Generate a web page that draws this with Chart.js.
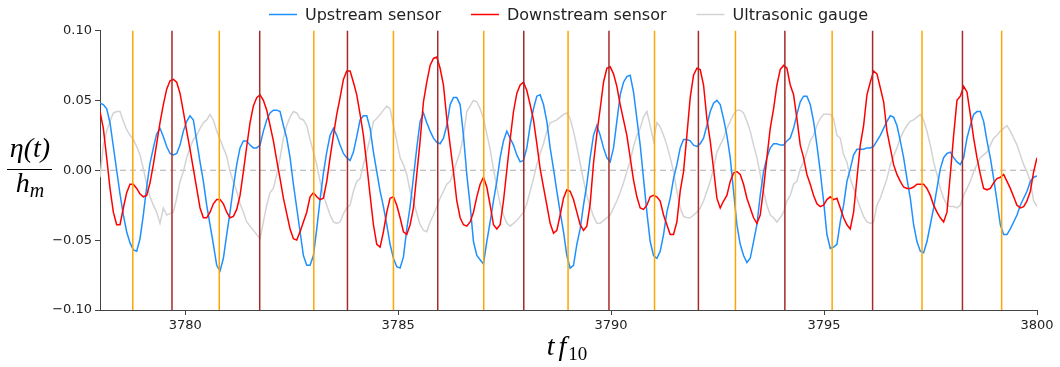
<!DOCTYPE html>
<html>
<head>
<meta charset="utf-8">
<script src="https://cdn.jsdelivr.net/npm/chart.js@4.4.1/dist/chart.umd.min.js"></script>
<style>
  body { margin: 0; background: #fff; }
  #wrap { width: 1060px; height: 367px; position: relative; }
</style>
</head>
<body>
<div id="wrap"><canvas id="myChart"></canvas></div>
<script>
// sampling grid of the recorded signals (t f10)
var t0 = 3778, t1 = 3800;

// Upstream sensor
var upstream = [
  0.048,0.047,0.044,0.034,0.017,0.000,-0.017,-0.032,-0.044,-0.052,
  -0.057,-0.058,-0.049,-0.032,-0.012,0.005,0.016,0.026,0.030,0.024,
  0.017,0.012,0.011,0.012,0.018,0.028,0.035,0.039,0.036,0.021,
  0.006,-0.008,-0.025,-0.039,-0.053,-0.068,-0.072,-0.063,-0.046,-0.030,
  -0.012,0.004,0.016,0.021,0.021,0.018,0.016,0.016,0.018,0.028,
  0.036,0.041,0.043,0.043,
  0.042,0.032,0.023,0.009,-0.010,-0.027,-0.044,-0.061,-0.068,-0.068,
  -0.061,-0.042,-0.021,-0.002,0.013,0.025,0.030,0.025,0.018,0.012,
  0.009,0.007,0.013,0.024,0.036,0.039,0.039,0.030,0.013,-0.001,
  -0.015,-0.026,-0.039,-0.053,-0.063,-0.069,-0.070,-0.062,-0.042,-0.026,
  -0.005,0.016,0.035,0.041,0.034,0.028,0.023,0.020,0.019,0.023,
  0.032,0.047,0.052,0.052,0.047,0.025,
  -0.003,-0.025,-0.051,-0.061,-0.064,-0.067,-0.051,-0.037,-0.022,-0.008,
  0.009,0.021,0.028,0.023,0.018,0.011,0.006,0.007,0.016,0.032,
  0.044,0.053,0.054,0.047,0.035,0.016,0.001,-0.015,-0.030,-0.044,
  -0.061,-0.070,-0.068,-0.053,-0.042,-0.025,-0.010,0.009,0.025,0.032,
  0.025,0.016,0.009,0.006,0.016,0.035,0.054,0.063,0.067,0.068,
  0.056,0.037,0.018,-0.006,-0.030,
  -0.051,-0.061,-0.063,-0.058,-0.046,-0.030,-0.020,-0.006,0.004,0.016,
  0.022,0.022,0.021,0.018,0.017,0.019,0.023,0.032,0.042,0.048,
  0.050,0.047,0.037,0.025,0.009,-0.015,-0.039,-0.053,-0.061,-0.066,
  -0.063,-0.051,-0.039,-0.018,-0.001,0.009,0.016,0.019,0.019,0.018,
  0.018,0.021,0.023,0.030,0.040,0.049,0.053,0.053,0.047,0.035,
  0.018,-0.001,-0.022,-0.046,-0.056,-0.055,
  -0.053,-0.037,-0.025,-0.008,0.001,0.011,0.015,0.015,0.015,0.016,
  0.016,0.017,0.021,0.025,0.030,0.035,0.039,0.038,0.032,0.021,
  0.009,-0.006,-0.020,-0.039,-0.051,-0.058,-0.059,-0.051,-0.039,-0.027,
  -0.013,0.001,0.009,0.012,0.013,0.009,0.006,0.004,0.009,0.023,
  0.032,0.040,0.042,0.042,0.035,0.021,0.009,-0.006,-0.022,-0.039,
  -0.046,-0.046,-0.042,-0.037,-0.032,-0.025,-0.020,-0.015,-0.008,-0.005,
  -0.004
];

// Downstream sensor
var downstream = [
  0.042,0.030,0.009,-0.013,-0.030,-0.039,-0.039,-0.027,-0.016,-0.010,
  -0.010,-0.013,-0.017,-0.019,-0.018,-0.009,0.004,0.019,0.034,0.047,
  0.058,0.064,0.065,0.063,0.055,0.042,0.028,0.015,0.001,-0.013,
  -0.027,-0.034,-0.034,-0.030,-0.024,-0.021,-0.021,-0.024,-0.030,-0.034,
  -0.033,-0.028,-0.018,-0.001,0.017,0.034,0.046,0.052,0.054,0.050,
  0.043,0.032,0.021,0.007,
  -0.006,-0.020,-0.031,-0.042,-0.049,-0.050,-0.044,-0.037,-0.030,-0.019,
  -0.016,-0.019,-0.021,-0.020,-0.008,0.009,0.025,0.040,0.052,0.065,
  0.071,0.071,0.063,0.054,0.040,0.025,0.004,-0.018,-0.039,-0.053,
  -0.055,-0.044,-0.030,-0.020,-0.019,-0.025,-0.034,-0.044,-0.046,-0.039,
  -0.027,-0.003,0.021,0.049,0.063,0.075,0.080,0.081,0.073,0.061,
  0.037,0.018,-0.001,-0.022,-0.034,-0.039,
  -0.040,-0.037,-0.030,-0.019,-0.010,-0.005,-0.012,-0.025,-0.039,-0.042,
  -0.039,-0.022,0.000,0.022,0.042,0.055,0.061,0.063,0.057,0.047,
  0.036,0.019,0.001,-0.012,-0.025,-0.038,-0.045,-0.043,-0.032,-0.020,
  -0.014,-0.015,-0.021,-0.030,-0.039,-0.043,-0.040,-0.024,0.005,0.026,
  0.044,0.063,0.073,0.074,0.069,0.060,0.047,0.036,0.025,0.009,
  -0.007,-0.019,-0.027,-0.028,-0.025,
  -0.019,-0.018,-0.019,-0.022,-0.032,-0.039,-0.046,-0.046,-0.037,-0.015,
  -0.001,0.025,0.052,0.068,0.073,0.072,0.061,0.037,0.021,0.001,
  -0.020,-0.027,-0.022,-0.018,-0.008,-0.002,-0.001,-0.003,-0.010,-0.020,
  -0.027,-0.034,-0.038,-0.032,-0.013,0.009,0.030,0.044,0.061,0.072,
  0.075,0.073,0.061,0.054,0.037,0.018,0.009,-0.003,-0.010,-0.018,
  -0.024,-0.026,-0.025,-0.021,-0.019,-0.021,
  -0.020,-0.027,-0.034,-0.039,-0.042,-0.030,-0.006,0.018,0.032,0.054,
  0.063,0.071,0.069,0.059,0.049,0.028,0.016,0.004,-0.003,-0.008,
  -0.012,-0.013,-0.013,-0.012,-0.010,-0.010,-0.010,-0.013,-0.018,-0.025,
  -0.030,-0.034,-0.037,-0.030,-0.003,0.025,0.050,0.053,0.060,0.056,
  0.040,0.023,0.009,-0.003,-0.013,-0.014,-0.013,-0.009,-0.006,-0.005,
  -0.003,-0.008,-0.013,-0.019,-0.025,-0.027,-0.026,-0.022,-0.015,-0.001,
  0.009
];

// Ultrasonic gauge
var gauge = [
  -0.005,0.018,0.028,0.035,0.041,0.042,0.042,0.035,0.029,0.025,
  0.022,0.017,0.011,0.001,-0.010,-0.019,-0.025,-0.030,-0.038,-0.027,
  -0.032,-0.031,-0.030,-0.020,-0.008,-0.001,0.009,0.016,0.022,0.025,
  0.030,0.034,0.036,0.040,0.036,0.028,0.022,0.016,0.010,-0.001,
  -0.008,-0.015,-0.024,-0.030,-0.037,-0.040,-0.043,-0.046,-0.049,-0.037,
  -0.025,-0.016,-0.013,-0.003,
  0.009,0.023,0.032,0.038,0.042,0.041,0.037,0.036,0.032,0.022,
  0.013,0.004,-0.008,-0.018,-0.025,-0.032,-0.037,-0.038,-0.037,-0.031,
  -0.027,-0.025,-0.015,-0.008,-0.006,0.004,0.013,0.023,0.035,0.037,
  0.040,0.043,0.046,0.044,0.032,0.021,0.009,0.004,-0.003,-0.015,
  -0.022,-0.031,-0.039,-0.043,-0.044,-0.037,-0.032,-0.026,-0.020,-0.015,
  -0.010,-0.008,-0.001,0.006,0.013,0.025,
  0.042,0.046,0.050,0.049,0.044,0.037,0.026,0.015,0.001,-0.012,
  -0.024,-0.032,-0.038,-0.040,-0.038,-0.036,-0.033,-0.030,-0.024,-0.015,
  -0.006,0.004,0.012,0.019,0.028,0.034,0.035,0.036,0.038,0.040,
  0.041,0.037,0.028,0.017,0.005,-0.007,-0.018,-0.026,-0.033,-0.038,
  -0.038,-0.036,-0.034,-0.032,-0.027,-0.022,-0.016,-0.009,-0.001,0.007,
  0.017,0.025,0.030,0.038,0.042,
  0.032,0.021,0.034,0.031,0.025,0.018,0.009,-0.001,-0.015,-0.027,
  -0.033,-0.034,-0.034,-0.032,-0.030,-0.027,-0.022,-0.015,-0.008,0.001,
  0.013,0.018,0.023,0.030,0.035,0.040,0.043,0.043,0.041,0.035,
  0.028,0.018,0.009,-0.003,-0.015,-0.025,-0.032,-0.034,-0.037,-0.034,
  -0.030,-0.022,-0.018,-0.010,-0.008,0.001,0.006,0.013,0.021,0.025,
  0.032,0.037,0.040,0.040,0.040,0.037,
  0.025,0.023,0.011,0.006,-0.006,-0.013,-0.020,-0.027,-0.033,-0.037,
  -0.038,-0.037,-0.025,-0.020,-0.013,-0.006,0.004,0.010,0.016,0.023,
  0.028,0.032,0.035,0.036,0.038,0.040,0.036,0.028,0.018,0.006,
  -0.003,-0.013,-0.020,-0.025,-0.026,-0.026,-0.027,-0.025,-0.018,-0.013,
  -0.008,-0.001,0.004,0.009,0.011,0.013,0.018,0.023,0.025,0.028,
  0.030,0.032,0.028,0.023,0.018,0.011,0.004,-0.001,-0.008,-0.022,
  -0.026
];

// vertical marker times
var orangeTimes = [3778.77,3780.80,3783.02,3784.89,3787.01,3788.99,3791.02,3792.92,3795.19,3797.30,3799.17];
var darkRedTimes = [3779.69,3781.75,3783.81,3785.93,3787.95,3789.95,3792.05,3794.08,3796.14,3798.25];

var xTicks = [3780,3785,3790,3795,3800];
var yTicks = [-0.10,-0.05,0.00,0.05,0.10];

var dt = (t1 - t0) / (upstream.length - 1);
function toPoints(arr) {
  return arr.map(function(v, i) { return {x: t0 + i * dt, y: v}; });
}
function vLines(times) {
  var pts = [];
  times.forEach(function(t) {
    pts.push({x: t, y: -0.1}, {x: t, y: 0.1}, {x: t, y: null});
  });
  return pts;
}

// legend row above the axes (first three datasets), centred on the plot area
var legendRow = {
  id: 'legendRow',
  afterDraw: function(chart) {
    var ctx = chart.ctx, area = chart.chartArea;
    var items = chart.data.datasets.slice(0, 3);
    var lineW = 28, gapText = 8, gapItem = 30, y = 14.5;
    ctx.save();
    ctx.font = '16px "DejaVu Sans"';
    var total = 0;
    items.forEach(function(ds, i) {
      total += lineW + gapText + ctx.measureText(ds.label).width + (i < items.length - 1 ? gapItem : 0);
    });
    var x = (area.left + area.right) / 2 - total / 2;
    ctx.textBaseline = 'middle';
    ctx.textAlign = 'left';
    items.forEach(function(ds) {
      ctx.strokeStyle = ds.borderColor;
      ctx.lineWidth = 1.5;
      ctx.beginPath();
      ctx.moveTo(x, y);
      ctx.lineTo(x + lineW, y);
      ctx.stroke();
      x += lineW + gapText;
      ctx.fillStyle = '#222';
      ctx.fillText(ds.label, x, y + 1);
      x += ctx.measureText(ds.label).width + gapItem;
    });
    ctx.restore();
  }
};

// axis titles drawn as math-like text
var axisTitles = {
  id: 'axisTitles',
  afterDraw: function(chart) {
    var ctx = chart.ctx;
    ctx.save();
    ctx.fillStyle = '#000';
    ctx.strokeStyle = '#000';
    ctx.textBaseline = 'alphabetic';
    // y label: eta(t) / h_m
    ctx.font = 'italic 28px "Liberation Serif"';
    ctx.textAlign = 'center';
    ctx.fillText('\u03B7(t)', 30, 157);
    ctx.lineWidth = 1.2;
    ctx.beginPath();
    ctx.moveTo(7, 169.5);
    ctx.lineTo(52, 169.5);
    ctx.stroke();
    ctx.textAlign = 'left';
    var wh = ctx.measureText('h').width;
    ctx.font = 'italic 20px "Liberation Serif"';
    var wm = ctx.measureText('m').width;
    var sx = 30 - (wh + wm) / 2;
    ctx.font = 'italic 28px "Liberation Serif"';
    ctx.fillText('h', sx, 192);
    ctx.font = 'italic 20px "Liberation Serif"';
    ctx.fillText('m', sx + wh, 197);
    // x label: t f_10
    ctx.font = 'italic 28px "Liberation Serif"';
    var wt = ctx.measureText('t').width + 4;
    var wf = ctx.measureText('f').width + 2;
    ctx.font = '19px "Liberation Serif"';
    var w10 = ctx.measureText('10').width;
    var x0 = 567 - (wt + wf + w10) / 2;
    ctx.font = 'italic 28px "Liberation Serif"';
    ctx.fillText('t', x0, 355);
    ctx.fillText('f', x0 + wt, 355);
    ctx.font = '19px "Liberation Serif"';
    ctx.fillText('10', x0 + wt + wf, 360);
    ctx.restore();
  }
};

new Chart("myChart", {
  type: "line",
  data: {
    datasets: [
      { label: "Upstream sensor", data: toPoints(upstream), borderColor: "#1e90ff", backgroundColor: "#1e90ff", borderWidth: 1.5, order: 3 },
      { label: "Downstream sensor", data: toPoints(downstream), borderColor: "#ff0000", backgroundColor: "#ff0000", borderWidth: 1.5, order: 2 },
      { label: "Ultrasonic gauge", data: toPoints(gauge), borderColor: "#d3d3d3", backgroundColor: "#d3d3d3", borderWidth: 1.5, order: 4 },
      { label: "zero", data: [{x: t0, y: 0}, {x: t1, y: 0}], borderColor: "rgba(140,140,140,0.7)", borderWidth: 1.2, borderDash: [6, 4], order: 5 },
      { label: "orange", data: vLines(orangeTimes), borderColor: "#ffa500", borderWidth: 1.5, spanGaps: false, order: 1 },
      { label: "darkred", data: vLines(darkRedTimes), borderColor: "#a52a2a", borderWidth: 1.5, spanGaps: false, order: 0 }
    ]
  },
  options: {
    responsive: true,
    maintainAspectRatio: false,
    animation: false,
    parsing: false,
    normalized: true,
    elements: { point: { radius: 0 }, line: { tension: 0 } },
    layout: { padding: { left: 0, right: 23, top: 30.5, bottom: 0 } },
    plugins: {
      tooltip: { enabled: false },
      legend: { display: false }
    },
    scales: {
      x: {
        type: 'linear',
        min: t0,
        max: t1,
        afterBuildTicks: function(scale) { scale.ticks = xTicks.map(function(v) { return {value: v}; }); },
        afterFit: function(scale) { scale.height = 57; },
        grid: { display: true, drawOnChartArea: false, drawTicks: true, tickLength: 5, color: '#444' },
        border: { display: true, color: '#444', width: 1 },
        ticks: { color: '#222', font: { family: 'DejaVu Sans', size: 13 }, padding: 3, maxRotation: 0,
          callback: function(v) { return String(v); } }
      },
      y: {
        type: 'linear',
        min: -0.1,
        max: 0.1,
        afterBuildTicks: function(scale) { scale.ticks = yTicks.map(function(v) { return {value: v}; }); },
        afterFit: function(scale) { scale.width = 100; },
        grid: { display: true, drawOnChartArea: false, drawTicks: true, tickLength: 5, color: '#444' },
        border: { display: true, color: '#444', width: 1 },
        ticks: { color: '#222', font: { family: 'DejaVu Sans', size: 13 }, padding: 3,
          callback: function(v) { return v.toFixed(2).replace('-', '\u2212'); } }
      }
    }
  },
  plugins: [legendRow, axisTitles]
});
</script>
</body>
</html>
